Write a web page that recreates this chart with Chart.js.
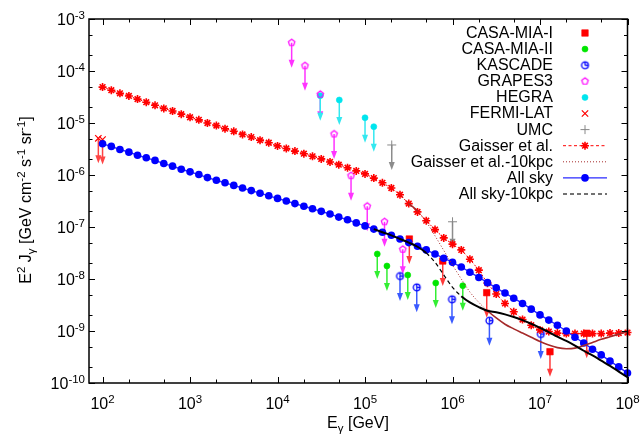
<!DOCTYPE html>
<html><head><meta charset="utf-8">
<script src="https://cdn.jsdelivr.net/npm/chart.js@4.4.0/dist/chart.umd.min.js"></script>
<style>html,body{margin:0;padding:0;background:#fff;}canvas{display:block;}</style>
</head><body>
<canvas id="c" width="640" height="435"></canvas>
<script>
// ---------- DATA ----------
const energies = [
 1.00e2,1.26e2,1.58e2,2.00e2,2.51e2,3.16e2,3.98e2,5.01e2,6.31e2,7.94e2,
 1.00e3,1.26e3,1.58e3,2.00e3,2.51e3,3.16e3,3.98e3,5.01e3,6.31e3,7.94e3,
 1.00e4,1.26e4,1.58e4,2.00e4,2.51e4,3.16e4,3.98e4,5.01e4,6.31e4,7.94e4,
 1.00e5,1.26e5,1.58e5,2.00e5,2.51e5,3.16e5,3.98e5,5.01e5,6.31e5,7.94e5,
 1.00e6,1.26e6,1.58e6,2.00e6,2.51e6,3.16e6,3.98e6,5.01e6,6.31e6,7.94e6,
 1.00e7,1.26e7,1.58e7,2.00e7,2.51e7,3.16e7,3.98e7,5.01e7,6.31e7,7.94e7,
 1.00e8];
const allSky = [
 3.98e-6,3.55e-6,3.09e-6,2.75e-6,2.40e-6,2.14e-6,1.91e-6,1.66e-6,1.48e-6,1.29e-6,
 1.15e-6,1.02e-6,8.91e-7,7.94e-7,7.08e-7,6.31e-7,5.62e-7,5.01e-7,4.47e-7,3.98e-7,
 3.55e-7,3.16e-7,2.82e-7,2.51e-7,2.24e-7,2.00e-7,1.78e-7,1.55e-7,1.38e-7,1.20e-7,
 1.05e-7,9.12e-8,7.94e-8,6.92e-8,5.89e-8,5.01e-8,4.27e-8,3.63e-8,3.02e-8,2.51e-8,
 2.09e-8,1.70e-8,1.35e-8,1.07e-8,8.51e-9,6.76e-9,5.37e-9,4.27e-9,3.39e-9,2.63e-9,
 2.04e-9,1.62e-9,1.29e-9,1.00e-9,7.59e-10,5.89e-10,4.47e-10,3.47e-10,2.63e-10,2.04e-10,
 1.55e-10];
const gaisser = [
 4.90e-5,4.27e-5,3.72e-5,3.31e-5,2.88e-5,2.51e-5,2.19e-5,1.91e-5,1.70e-5,1.48e-5,
 1.29e-5,1.15e-5,1.00e-5,8.91e-6,7.76e-6,6.92e-6,6.03e-6,5.37e-6,4.68e-6,4.17e-6,
 3.63e-6,3.24e-6,2.88e-6,2.57e-6,2.29e-6,2.04e-6,1.78e-6,1.58e-6,1.38e-6,1.20e-6,
 1.05e-6,8.71e-7,7.08e-7,5.62e-7,4.17e-7,2.82e-7,1.95e-7,1.32e-7,8.91e-8,6.17e-8,
 4.68e-8,3.63e-8,2.40e-8,1.48e-8,8.32e-9,5.13e-9,3.39e-9,2.34e-9,1.66e-9,1.29e-9,
 1.05e-9,9.77e-10,9.12e-10,8.91e-10,8.91e-10,8.91e-10,8.91e-10,8.91e-10,9.12e-10,9.12e-10,
 9.33e-10];
// 10 kpc curves start part-way along the energy grid
const allSky10kpcStart = 31;   // 10^5.1 GeV
const allSky10kpc = [
 9.12e-8,7.94e-8,6.92e-8,5.89e-8,5.01e-8,4.17e-8,3.16e-8,2.09e-8,1.20e-8,6.92e-9,
 4.68e-9,3.55e-9,2.88e-9,2.45e-9,2.29e-9,2.09e-9,1.86e-9,1.62e-9,1.38e-9,1.15e-9,
 9.55e-10,7.76e-10,6.46e-10,5.25e-10,4.17e-10,3.39e-10,2.69e-10,2.14e-10,1.66e-10,1.29e-10];
const gaisser10kpcStart = 34;  // 10^5.4 GeV
const gaisser10kpc = [
 4.17e-7,2.82e-7,2.04e-7,1.26e-7,6.76e-8,3.55e-8,1.86e-8,1.00e-8,5.62e-9,3.55e-9,
 2.45e-9,1.78e-9,1.35e-9,1.10e-9,9.12e-10,7.59e-10,6.31e-10,5.37e-10,4.79e-10,4.57e-10,
 4.68e-10,5.25e-10,6.03e-10,6.92e-10,7.76e-10,8.71e-10,9.77e-10];

// upper limits
const casaMia1E = [3.21e5,7.73e5,2.46e6,1.30e7,3.42e7];
const casaMia1F = [5.87e-8,2.22e-8,5.46e-9,4.00e-10,9.04e-10];
const casaMia2E = [1.38e5,1.78e5,3.08e5,6.43e5,1.31e6];
const casaMia2F = [3.03e-8,1.78e-8,1.19e-8,8.38e-9,7.43e-9];
const kascadeE = [2.51e5,3.90e5,9.86e5,2.64e6,1.02e7];
const kascadeF = [1.14e-8,6.92e-9,4.07e-9,1.58e-9,8.75e-10];
const grapesE = [1.45e4,2.06e4,3.08e4,4.43e4,6.92e4,1.06e5,1.67e5,2.70e5];
const grapesF = [3.50e-4,1.26e-4,3.56e-5,6.14e-6,9.70e-7,2.51e-7,1.26e-7,3.72e-8];
const hegraE = [3.08e4,5.08e4,1.00e5,1.26e5];
const hegraF = [3.35e-5,2.77e-5,1.26e-5,8.49e-6];
const fermiE = [89.5,100];
const fermiF = [5.08e-6,4.79e-6];
const umcE = [2.02e5,1.00e6];
const umcF = [3.78e-6,1.26e-7];

const xTickExps = [2,3,4,5,6,7,8];
const yTickExps = [-10,-9,-8,-7,-6,-5,-4,-3];

// ---------- helpers ----------
const FONT = '"Liberation Sans", Arial, Helvetica, sans-serif';
const NORM = 16, SMALL = 11.5;
function pts(xs, ys, off) { off = off || 0; return ys.map((y, i) => ({x: xs[i + off], y})); }

function makePentagon(color, r, lw) {
  const s = 13; const c = document.createElement('canvas'); c.width = s; c.height = s;
  const g = c.getContext('2d'); g.strokeStyle = color; g.lineWidth = lw;
  g.beginPath();
  for (let k = 0; k < 5; k++) {
    const a = -Math.PI / 2 + k * 2 * Math.PI / 5;
    const px = s / 2 + r * Math.cos(a), py = s / 2 + r * Math.sin(a);
    if (k) g.lineTo(px, py); else g.moveTo(px, py);
  }
  g.closePath(); g.stroke(); return c;
}
function makeKascade(color, r, lw) {
  const s = 13; const c = document.createElement('canvas'); c.width = s; c.height = s;
  const g = c.getContext('2d'); g.strokeStyle = color; g.fillStyle = color; g.lineWidth = lw;
  g.beginPath(); g.arc(s / 2, s / 2, r, 0, Math.PI * 2); g.stroke();
  g.beginPath(); g.moveTo(s / 2, s / 2); g.lineTo(s / 2, s / 2 - r); g.moveTo(s / 2, s / 2); g.lineTo(s / 2 + r, s / 2); g.stroke();
  return c;
}
const pentagonImg = makePentagon('#ff00ff', 3.4, 1.2);
const kascadeImg = makeKascade('#0000ff', 3.4, 1.3);

function richWidth(ctx, parts) {
  let w = 0;
  for (const p of parts) { ctx.font = (p.s ? SMALL : NORM) + 'px ' + FONT; w += ctx.measureText(p.t).width; }
  return w;
}
function drawRich(ctx, parts, x, y, align) {
  const w = richWidth(ctx, parts);
  let cx = align === 'center' ? x - w / 2 : (align === 'right' ? x - w : x);
  ctx.textAlign = 'left'; ctx.textBaseline = 'alphabetic'; ctx.fillStyle = '#000';
  for (const p of parts) {
    ctx.font = (p.s ? SMALL : NORM) + 'px ' + FONT;
    const dy = p.s === 'sup' ? -6.5 : (p.s === 'sub' ? 4 : 0);
    ctx.fillText(p.t, cx, y + dy);
    cx += ctx.measureText(p.t).width;
  }
}
function drawArrow(ctx, x, y, color) {
  const len = 25, hl = 8, hw = 3;
  ctx.save();
  ctx.strokeStyle = color; ctx.fillStyle = color; ctx.lineWidth = 1.5;
  ctx.beginPath(); ctx.moveTo(x, y); ctx.lineTo(x, y + len - hl + 1); ctx.stroke();
  ctx.beginPath(); ctx.moveTo(x - hw, y + len - hl); ctx.lineTo(x + hw, y + len - hl); ctx.lineTo(x, y + len); ctx.closePath(); ctx.fill();
  ctx.restore();
}

const steepDash = (dash, th) => ctx => Math.abs(ctx.p1.y - ctx.p0.y) > th ? dash : undefined;
const steepWidth = (wSteep, wFlat, th) => ctx => Math.abs(ctx.p1.y - ctx.p0.y) > th ? wSteep : wFlat;

// ---------- datasets ----------
const ul = (label, xs, ys, style, color, arrowColor, extra) => Object.assign({
  label, data: pts(xs, ys), showLine: false, pointStyle: style,
  pointBackgroundColor: color, pointBorderColor: color, pointRadius: 3, pointBorderWidth: 0.6,
  order: 5, upperLimit: true, arrowColor, clip: false
}, extra || {});

const datasets = [
  ul('CASA-MIA-I', casaMia1E, casaMia1F, 'rect', '#ff0000', '#ff3a3a', {pointRadius: 4.6}),
  ul('CASA-MIA-II', casaMia2E, casaMia2F, 'circle', '#00e600', '#33ee33'),
  ul('KASCADE', kascadeE, kascadeF, kascadeImg, '#0000ff', '#3a5aff', {pointRadius: 3.4}),
  ul('GRAPES3', grapesE, grapesF, pentagonImg, '#ff00ff', '#ff33ff', {pointRadius: 3.4}),
  ul('HEGRA', hegraE, hegraF, 'circle', '#00e5ee', '#33e8f0'),
  ul('FERMI-LAT', fermiE, fermiF, 'crossRot', '#ff0000', '#ff4444', {pointRadius: 4.5, pointBorderWidth: 1.2}),
  ul('UMC', umcE, umcF, 'cross', '#888888', '#8c8c8c', {pointRadius: 4.5, pointBorderWidth: 1}),
  {
    label: 'Gaisser et al.', data: pts(energies, gaisser), showLine: true,
    borderColor: '#ff0000', borderWidth: 1, borderDash: [2, 2],
    pointStyle: 'star', pointRadius: 4, pointBorderWidth: 1.6,
    pointBorderColor: '#ff0000', pointBackgroundColor: '#ff0000', order: 3, clip: false
  },
  {
    label: 'Gaisser et al.-10kpc', data: pts(energies, gaisser10kpc, gaisser10kpcStart), showLine: true,
    borderColor: '#a52a2a', borderWidth: 1.5, cubicInterpolationMode: 'monotone',
    pointRadius: 0, order: 1, clip: false,
    segment: { borderDash: steepDash([1, 2], 7.5), borderWidth: steepWidth(1, 1.6, 7.5) }
  },
  {
    label: 'All sky', data: pts(energies, allSky), showLine: true,
    borderColor: '#2a2aff', borderWidth: 1.4,
    pointStyle: 'circle', pointRadius: 3.8, pointBorderWidth: 0,
    pointBackgroundColor: '#0000ff', pointBorderColor: '#0000ff', order: 2, clip: false
  },
  {
    label: 'All sky-10kpc', data: pts(energies, allSky10kpc, allSky10kpcStart), showLine: true,
    borderColor: '#000000', borderWidth: 2, cubicInterpolationMode: 'monotone',
    pointRadius: 0, order: 0, clip: false,
    segment: { borderDash: steepDash([4, 3], 7), borderWidth: steepWidth(1.2, 2, 7) }
  }
];

function drawLegendPoint(ctx, ds, x, y) {
  ctx.save();
  ctx.fillStyle = ds.pointBackgroundColor; ctx.strokeStyle = ds.pointBorderColor;
  ctx.lineWidth = ds.pointBorderWidth || 1; ctx.setLineDash([]);
  Chart.helpers.drawPoint(ctx, {pointStyle: ds.pointStyle, radius: ds.pointRadius, borderWidth: ds.pointBorderWidth, rotation: 0}, x, y);
  ctx.restore();
}

// ---------- plugin: frame, ticks, labels, legend, arrows ----------
const decor = {
  id: 'decor',
  beforeDatasetsDraw(chart) {
    const ctx = chart.ctx;
    chart.data.datasets.forEach((ds, i) => {
      if (!ds.upperLimit) return;
      const meta = chart.getDatasetMeta(i);
      meta.data.forEach(el => drawArrow(ctx, el.x, el.y, ds.arrowColor));
    });
  },
  afterDraw(chart) {
    const ctx = chart.ctx, a = chart.chartArea;
    const xs = chart.scales.x, ys = chart.scales.y;
    ctx.save();
    ctx.strokeStyle = '#000'; ctx.lineWidth = 1.5;
    ctx.strokeRect(a.left, a.top, a.right - a.left, a.bottom - a.top);
    ctx.lineWidth = 1;
    const MAJ = 6, MIN = 3.5;
    for (let e = 1; e <= 8; e++) {
      [1, 2, 5].forEach(m => {
        const v = m * Math.pow(10, e);
        if (v < xs.min || v > xs.max) return;
        const px = Math.round(xs.getPixelForValue(v)) + 0.5;
        const L = m === 1 ? MAJ : MIN;
        ctx.beginPath();
        ctx.moveTo(px, a.bottom); ctx.lineTo(px, a.bottom - L);
        ctx.moveTo(px, a.top); ctx.lineTo(px, a.top + L);
        ctx.stroke();
      });
    }
    for (let e = -10; e <= -3; e++) {
      [1, 2, 5].forEach(m => {
        const v = m * Math.pow(10, e);
        if (v < ys.min * 0.999 || v > ys.max * 1.001) return;
        const py = Math.round(ys.getPixelForValue(v)) + 0.5;
        const L = m === 1 ? MAJ : MIN;
        ctx.beginPath();
        ctx.moveTo(a.left, py); ctx.lineTo(a.left + L, py);
        ctx.moveTo(a.right, py); ctx.lineTo(a.right - L, py);
        ctx.stroke();
      });
    }
    xTickExps.forEach(e => {
      const px = xs.getPixelForValue(Math.pow(10, e));
      drawRich(ctx, [{t: '10'}, {t: String(e), s: 'sup'}], px, 409, 'center');
    });
    yTickExps.forEach(e => {
      const py = ys.getPixelForValue(Math.pow(10, e));
      drawRich(ctx, [{t: '10'}, {t: String(e), s: 'sup'}], 85, py + 6, 'right');
    });
    drawRich(ctx, [{t: 'E'}, {t: '\u03b3', s: 'sub'}, {t: ' [GeV]'}], 358, 428, 'center');
    ctx.save();
    ctx.translate(31, 200); ctx.rotate(-Math.PI / 2);
    drawRich(ctx, [{t: 'E'}, {t: '2', s: 'sup'}, {t: ' J'}, {t: '\u03b3', s: 'sub'},
      {t: ' [GeV cm'}, {t: '-2', s: 'sup'}, {t: ' s'}, {t: '-1', s: 'sup'},
      {t: ' sr'}, {t: '-1', s: 'sup'}, {t: ']'}], 0, 0, 'center');
    ctx.restore();
    // legend
    const textRight = 553, symX = 585, l0 = 563, l1 = 607, row0 = 33, dy = 16.1;
    chart.data.datasets.forEach((ds, i) => {
      const y = row0 + i * dy;
      ctx.font = NORM + 'px ' + FONT; ctx.fillStyle = '#000';
      ctx.textAlign = 'right'; ctx.textBaseline = 'middle';
      ctx.fillText(ds.label, textRight, y + 0.5);
      if (ds.showLine) {
        ctx.save();
        ctx.strokeStyle = ds.borderColor;
        let dash = ds.borderDash || [], w = ds.borderWidth;
        if (ds.label === 'Gaisser et al.-10kpc') { dash = [1, 2]; w = 1; }
        if (ds.label === 'All sky-10kpc') { dash = [4, 3]; w = 1.4; ctx.strokeStyle = '#444'; }
        if (ds.label === 'Gaisser et al.') { dash = [3, 2.5]; }
        ctx.lineWidth = w; ctx.setLineDash(dash);
        ctx.beginPath(); ctx.moveTo(l0, y); ctx.lineTo(l1, y); ctx.stroke();
        ctx.restore();
      }
      if (ds.pointRadius > 0) drawLegendPoint(ctx, ds, symX, y);
    });
    ctx.restore();
  }
};

new Chart(document.getElementById('c'), {
  type: 'scatter',
  data: { datasets },
  options: {
    responsive: false, animation: false, devicePixelRatio: 1,
    layout: { padding: { left: 89, top: 19, right: 12.5, bottom: 52 } },
    plugins: { legend: { display: false }, tooltip: { enabled: false } },
    scales: {
      x: { type: 'logarithmic', min: 70, max: 1e8, display: false },
      y: { type: 'logarithmic', min: 1e-10, max: 1e-3, display: false }
    }
  },
  plugins: [decor]
});
</script></body></html>
